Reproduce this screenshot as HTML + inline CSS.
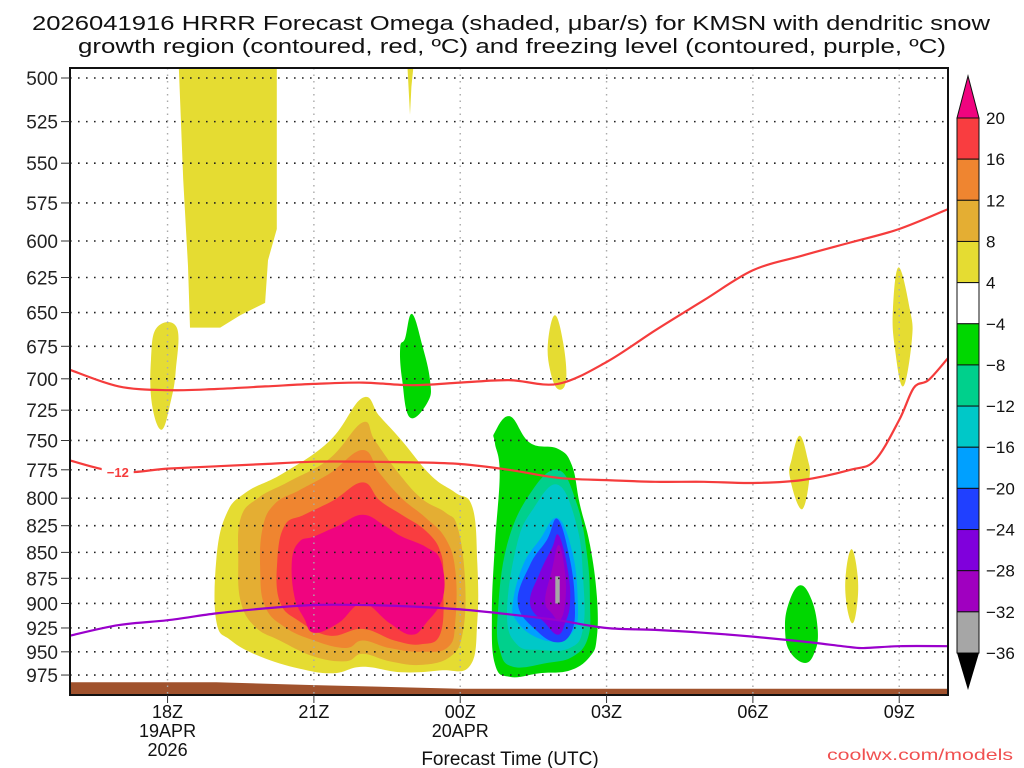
<!DOCTYPE html>
<html><head><meta charset="utf-8"><style>
html,body{margin:0;padding:0;background:#fff;width:1024px;height:768px;overflow:hidden}
svg{display:block;font-family:"Liberation Sans",sans-serif}
</style></head><body>
<svg id="chart" width="1024" height="768" viewBox="0 0 1024 768" xmlns="http://www.w3.org/2000/svg">
<text x="32" y="30" font-size="20" textLength="958" lengthAdjust="spacingAndGlyphs" fill="#111">2026041916 HRRR Forecast Omega (shaded, μbar/s) for KMSN with dendritic snow</text>
<text x="78" y="53" font-size="20" textLength="868" lengthAdjust="spacingAndGlyphs" fill="#111">growth region (contoured, red, ºC) and freezing level (contoured, purple, ºC)</text>
<defs><clipPath id="plotclip"><rect x="70" y="68" width="878" height="627"/></clipPath></defs>
<g id="shades" clip-path="url(#plotclip)"></g>
<g id="grid"></g>
<g id="lines" clip-path="url(#plotclip)"></g>
<g id="axes"></g>
<g id="cbar"></g>
<text x="510" y="765" font-size="19" text-anchor="middle" fill="#111">Forecast Time (UTC)</text>
<text x="827" y="760" font-size="16" textLength="186" lengthAdjust="spacingAndGlyphs" fill="#f05050">coolwx.com/models</text>
</svg>
<script>
// ---- data ----
const pressureTicks=[500,525,550,575,600,625,650,675,700,725,750,775,800,825,850,875,900,925,950,975];
const timeTickHours=[2,5,8,11,14,17];
const timeTickLabels=["18Z","21Z","00Z","03Z","06Z","09Z"];
const hours=[0,1,2,3,4,5,6,7,8,9,10,11,12,13,14,15,16,17,18];
const dgzTopP=[693,706,709,708,706,704,703,705,703,701,704,687,663,641,620,610,601,592,579];
const dgzBotHours=[0,1,2,3,4,5,6,7,8,9,10,11,12,13,14,15,16,16.5,17,17.3,17.6,18];
const dgzBotP=[767,777,774,772,770,768,768,768.5,770,775,782,784,785.5,785.5,786.5,784,775,767,733,707,701,684];
const frzHours=[0,1,2,3,4,5,6,7,8,9,10,11,12,13,14,15,16,16.3,17,18];
const frzP=[933,922,917,910,905,901.5,901.5,903,906,911,917,925,927,930,934,939,945,946,944,944];
const surfHours=[0,3,5,8,10,12,14,16,18];
const surfP=[983,983,986,990,990,990,990,990,990];
const cbarLevels=["20","16","12","8","4","−4","−8","−12","−16","−20","−24","−28","−32","−36"];
const cbarColors=["#f93d40","#ef8530","#e4ae33","#e5dc32","#ffffff","#00d700","#00d08c","#00c8c8","#00a0ff","#2040ff","#8000dc","#a000c0","#a6a6a6"];
const warm4=[[6,715],[5.33,750],[4.37,778],[3.6,795],[3.2,815],[3,857],[3,918],[3.3,938],[3.9,955],[4.7,968],[5.4,973],[6,966],[6.8,972],[7.6,970],[8.2,965],[8.35,918],[8.35,860],[8.25,808],[7.9,795],[7.4,780],[6.8,750],[6.35,730]];
const warm8=[[6,735],[5.33,765],[4.5,785],[3.85,800],[3.5,818],[3.45,857],[3.5,898],[3.8,924],[4.3,938],[5,955],[5.65,960],[6,952],[6.55,960],[7.2,964],[7.8,955],[8.05,930],[8.1,878],[7.95,827],[7.7,813],[7.2,800],[6.7,776],[6.25,750]];
const warm12=[[6,758],[5.33,778],[4.7,793],[4.2,805],[3.95,827],[3.9,867],[4,903],[4.4,924],[5,938],[5.65,946],[6,938],[6.55,946],[7.2,950],[7.75,945],[7.9,918],[7.9,867],[7.7,837],[7.3,818],[6.8,800],[6.35,778]];
const warm16=[[6,786],[5.4,802],[4.8,815],[4.4,825],[4.25,858],[4.3,898],[4.7,918],[5.33,933],[6,926],[6.65,938],[7.2,942],[7.6,930],[7.65,879],[7.6,850],[7.3,830],[6.8,815],[6.35,802]];
const warm20=[[6,815],[5.5,825],[5,835],[4.7,840],[4.55,858],[4.6,893],[4.8,915],[5,930],[5.5,920],[6,900],[6.55,920],[7,932],[7.3,920],[7.65,893],[7.6,858],[7.3,845],[6.8,835],[6.45,825]];
const cold4=[[8.71,743],[9.02,730],[9.43,752],[10,757],[10.29,771],[10.45,805],[10.66,843],[10.8,892],[10.8,935],[10.66,955],[10.25,970],[9.63,973],[9.02,977],[8.71,963],[8.65,910],[8.71,843],[8.81,778],[8.71,752]];
const cold8=[[10,775],[10.39,805],[10.6,852],[10.66,899],[10.62,935],[10.31,955],[9.78,962],[9.08,966],[8.81,948],[8.77,910],[8.96,843],[9.43,796]];
const cold12=[[10,788],[10.39,825],[10.52,875],[10.52,925],[10.25,946],[9.63,948],[9.16,942],[8.96,910],[9.16,843],[9.49,810]];
const cold16=[[10,818],[10.31,852],[10.41,899],[10.35,925],[10.04,938],[9.57,935],[9.16,918],[9.08,899],[9.29,862],[9.63,838]];
const cold20=[[10,819],[10.25,857],[10.35,899],[10.29,928],[10,940],[9.57,928],[9.18,900],[9.43,862],[9.78,838]];
const cold24=[[10.02,834],[10.21,868],[10.25,900],[10.15,920],[10,932],[9.74,920],[9.43,900],[9.63,870],[9.88,846]];
const cold28=[[10.02,843],[10.15,870],[10.15,900],[10.04,917],[9.88,910],[9.74,897],[9.88,867]];
const cold32=[[9.95,873],[10.04,873],[10.04,900],[9.95,900]];
const upperYellow=[[2.21,480],[4.24,480],[4.24,592],[4.06,613],[4.0,643],[3.49,652],[3.08,661],[2.46,661],[2.42,617],[2.32,560]];
const topSliver=[[6.87,470],[7.13,470],[7.0,505],[6.97,521]];
const leftYellow=[[1.78,661],[2.19,661],[2.17,693],[2.07,717],[1.88,741],[1.68,720],[1.66,685]];
const midGreen=[[6.87,669],[7.01,651],[7.22,674],[7.38,701],[7.34,718],[6.97,731],[6.81,701],[6.77,676]];
const midYellow=[[9.94,652],[10.11,672],[10.17,701],[10.0,708],[9.84,693],[9.8,672]];
const yellow09=[[16.99,618],[17.22,648],[17.26,670],[17.08,706],[16.91,676],[16.87,648]];
const yellow07=[[14.96,746],[15.12,765],[15.16,782],[15.0,810],[14.76,782],[14.8,765]];
const green07=[[14.96,882],[15.21,897],[15.33,928],[15.27,950],[15.07,962],[14.76,950],[14.66,928],[14.72,902]];
const yellow08=[[16.03,847],[16.15,874],[16.13,904],[16.03,920],[15.91,897],[15.91,868]];

// ---- scales ----
const X0=70,X1=948,Y0=68,Y1=695;
const X=h=>X0+h*(X1-X0)/18;
const Y=p=>78+894*Math.log(p/500);
const NS="http://www.w3.org/2000/svg";
function mk(tag,attrs,parent){const e=document.createElementNS(NS,tag);for(const k in attrs)e.setAttribute(k,attrs[k]);parent.appendChild(e);return e;}
const shades=document.getElementById('shades'),grid=document.getElementById('grid'),lines=document.getElementById('lines'),axes=document.getElementById('axes'),cbar=document.getElementById('cbar');

function smoothPath(P,closed,t){
  t=t===undefined?0.5:t;
  const n=P.length;let d='M'+P[0][0].toFixed(1)+','+P[0][1].toFixed(1);
  const get=i=>closed?P[(i+n)%n]:P[Math.max(0,Math.min(n-1,i))];
  const last=closed?n:n-1;
  for(let i=0;i<last;i++){
    const p0=get(i-1),p1=get(i),p2=get(i+1),p3=get(i+2);
    const c1=[p1[0]+(p2[0]-p0[0])*t/3,p1[1]+(p2[1]-p0[1])*t/3];
    const c2=[p2[0]-(p3[0]-p1[0])*t/3,p2[1]-(p3[1]-p1[1])*t/3];
    d+=' C'+c1[0].toFixed(1)+','+c1[1].toFixed(1)+' '+c2[0].toFixed(1)+','+c2[1].toFixed(1)+' '+p2[0].toFixed(1)+','+p2[1].toFixed(1);
  }
  return d+(closed?' Z':'');
}
function poly(pts,color,name,sharp){
  const P=pts.map(q=>[X(q[0]),Y(q[1])]);
  const d=sharp?('M'+P.map(q=>q[0].toFixed(1)+','+q[1].toFixed(1)).join(' L')+' Z'):smoothPath(P,true,0.6);
  const e=mk('path',{d:d,fill:color},shades);
  
  
}
const PINK="#f0047f";
poly(upperYellow,"#e5dc32","upper-yellow-region",true);
poly(topSliver,"#e5dc32","top-yellow-sliver",true);
poly(leftYellow,"#e5dc32","left-yellow-region");
poly(midGreen,"#00d700","mid-green-region");
poly(midYellow,"#e5dc32","mid-yellow-region");
poly(yellow09,"#e5dc32","yellow-region-09z");
poly(yellow07,"#e5dc32","yellow-region-07z");
poly(green07,"#00d700","green-region-07z");
poly(yellow08,"#e5dc32","yellow-region-08z");
poly(warm4,"#e5dc32","upward-omega-4");
poly(warm8,"#e4ae33","upward-omega-8");
poly(warm12,"#ef8530","upward-omega-12");
poly(warm16,"#f93d40","upward-omega-16");
poly(warm20,PINK,"upward-omega-20");
poly(cold4,"#00d700","downward-omega-4");
poly(cold8,"#00d08c","downward-omega-8");
poly(cold12,"#00c8c8","downward-omega-12");
poly(cold16,"#00a0ff","downward-omega-16");
poly(cold20,"#2040ff","downward-omega-20");
poly(cold24,"#8000dc","downward-omega-24");
poly(cold28,"#a000c0","downward-omega-28");
poly(cold32,"#a6a6a6","downward-omega-32",true);

{
  let d='M'+X(0)+','+Y1;
  surfHours.forEach((h,i)=>{d+=' L'+X(h).toFixed(1)+','+Y(surfP[i]).toFixed(1);});
  d+=' L'+X(18)+','+Y1+' Z';
  const g=mk('path',{d:d,fill:"#a0522d"},shades);
  
  
}

pressureTicks.forEach(p=>{
  const l=mk('line',{x1:X0,x2:X1,y1:Y(p),y2:Y(p),stroke:"#222","stroke-width":1.6,"stroke-dasharray":"1.6 6.4"},grid);
  
  
});
timeTickHours.forEach((h,i)=>{
  const l=mk('line',{x1:X(h),x2:X(h),y1:Y0,y2:Y1,stroke:"#aaa","stroke-width":1.4,"stroke-dasharray":"1.5 5"},grid);
  
  
});

function pline(hs,ps,color,name,w){
  const P=hs.map((h,i)=>[X(h),Y(ps[i])]);
  const e=mk('path',{d:smoothPath(P,false,0.5),fill:"none",stroke:color,"stroke-width":w,"stroke-linejoin":"round"},lines);
  
  
}
pline(hours,dgzTopP,"#f53c3c","dgz-top-contour",2.2);
pline(dgzBotHours,dgzBotP,"#f53c3c","dgz-minus12-contour",2.2);
pline(frzHours,frzP,"#9a00cc","freezing-level-contour",2.2);
{
  const bg=mk('rect',{x:X(0.65),y:Y(777)-8,width:32,height:14,fill:"#fff"},lines);
  
  
  const t=mk('text',{x:X(0.98),y:Y(777)+5,"font-size":13,"font-weight":"bold","text-anchor":"middle",fill:"#f53c3c"},lines);
  t.textContent="−12";
  
  
}

{
  const f=mk('rect',{x:X0,y:Y0,width:X1-X0,height:Y1-Y0,fill:"none",stroke:"#111","stroke-width":2},axes);
  
  
  pressureTicks.forEach(p=>{
    const t=mk('line',{x1:X0-9,x2:X0,y1:Y(p),y2:Y(p),stroke:"#333","stroke-width":1},axes);
    
    
    const s=mk('text',{x:58,y:Y(p)+7,"font-size":19,"text-anchor":"end",fill:"#222"},axes);
    s.textContent=p;
    
    
  });
  timeTickHours.forEach((h,i)=>{
    const t=mk('line',{x1:X(h),x2:X(h),y1:Y1,y2:Y1+8,stroke:"#333","stroke-width":1},axes);
    
    
    const s=mk('text',{x:X(h),y:718,"font-size":18,"text-anchor":"middle",fill:"#111"},axes);
    s.textContent=timeTickLabels[i];
    
    
  });
  const dates=[[2,"19APR",737],[2,"2026",756],[8,"20APR",737]];
  dates.forEach(d=>{
    const s=mk('text',{x:X(d[0]),y:d[2],"font-size":18,"text-anchor":"middle",fill:"#111"},axes);
    s.textContent=d[1];
    
    
  });
}

{
  const bx=957,bw=22,top=118,bh=(653-118)/13;
  const tri=mk('polygon',{points:`${bx},${top} ${bx+bw},${top} ${bx+bw/2},76`,fill:PINK,stroke:"#111","stroke-width":1},cbar);
  
  
  cbarColors.forEach((c,i)=>{
    const r=mk('rect',{x:bx,y:top+i*bh,width:bw,height:bh,fill:c,stroke:"#111","stroke-width":1},cbar);
    
    
  });
  const tri2=mk('polygon',{points:`${bx},653 ${bx+bw},653 ${bx+bw/2},690`,fill:"#000"},cbar);
  
  
  cbarLevels.forEach((lab,i)=>{
    const t=mk('text',{x:986,y:top+i*bh+6,"font-size":17,fill:"#111"},cbar);
    t.textContent=lab;
    
    
  });
}
</script>
</body></html>
